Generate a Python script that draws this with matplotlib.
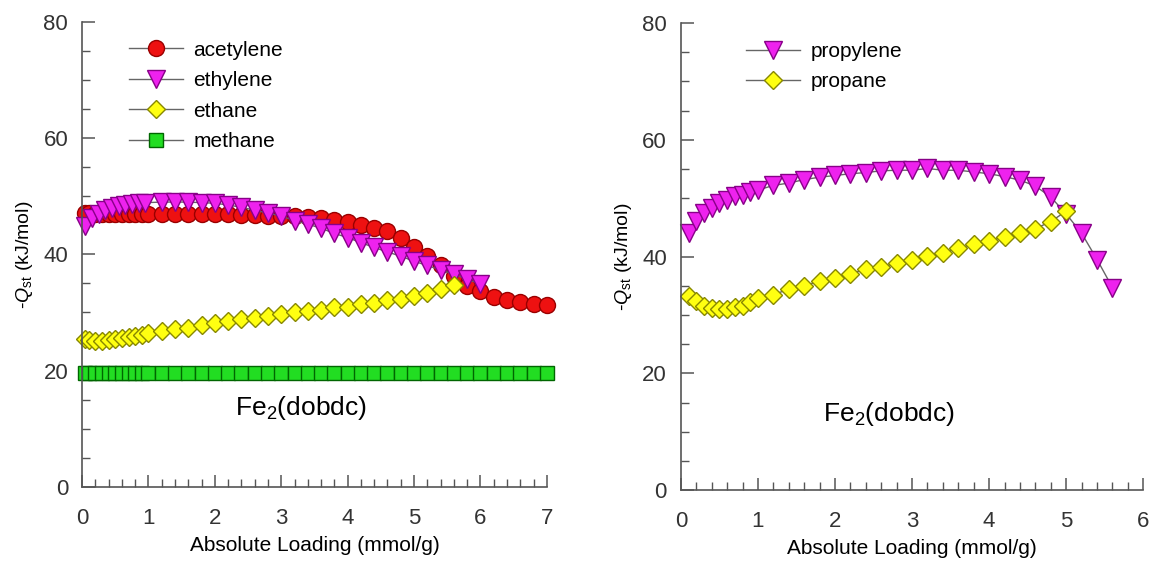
import numpy as np
import matplotlib
matplotlib.use("Agg")
import matplotlib.pyplot as plt
from matplotlib.ticker import MultipleLocator

plt.rcParams['font.family'] = ['Liberation Sans', 'DejaVu Sans']
plt.rcParams['mathtext.fontset'] = 'custom'
plt.rcParams['mathtext.rm'] = 'Liberation Sans'
plt.rcParams['mathtext.it'] = 'Liberation Sans:italic'

# ---- left panel: C2 / C1 gases ----
x_c2 = [0.05, 0.1, 0.2, 0.3, 0.4, 0.5, 0.6, 0.7, 0.8, 0.9, 1.0,
        1.2, 1.4, 1.6, 1.8, 2.0, 2.2, 2.4, 2.6, 2.8, 3.0,
        3.2, 3.4, 3.6, 3.8, 4.0, 4.2, 4.4, 4.6, 4.8, 5.0,
        5.2, 5.4, 5.6, 5.8, 6.0, 6.2, 6.4, 6.6, 6.8, 7.0]
acetylene = [47.2, 47.1, 47.0, 47.0, 47.0, 47.0, 47.0, 47.0, 47.0, 47.0, 47.0,
             47.0, 47.0, 47.0, 47.0, 47.0, 46.9, 46.8, 46.7, 46.6, 46.6,
             46.6, 46.5, 46.3, 45.9, 45.6, 45.1, 44.6, 44.0, 42.9, 41.3,
             39.7, 38.2, 36.3, 34.6, 33.7, 32.7, 32.2, 31.8, 31.5, 31.2]
methane = [19.6] * len(x_c2)

x_ethylene = [0.05, 0.15, 0.25, 0.35, 0.45, 0.55, 0.65, 0.75, 0.85, 0.95,
              1.2, 1.4, 1.6, 1.8, 2.0, 2.2, 2.4, 2.6, 2.8, 3.0,
              3.2, 3.4, 3.6, 3.8, 4.0, 4.2, 4.4, 4.6, 4.8, 5.0,
              5.2, 5.4, 5.6, 5.8, 6.0]
ethylene = [44.8, 46.2, 47.0, 47.6, 48.0, 48.3, 48.5, 48.7, 48.8, 48.9,
            49.0, 49.0, 49.0, 48.9, 48.8, 48.5, 48.1, 47.6, 47.1, 46.6,
            45.8, 45.2, 44.5, 43.6, 42.9, 42.0, 41.2, 40.4, 39.7, 38.8,
            38.1, 37.3, 36.6, 35.7, 34.9]

x_ethane = [0.05, 0.1, 0.2, 0.3, 0.4, 0.5, 0.6, 0.7, 0.8, 0.9, 1.0,
            1.2, 1.4, 1.6, 1.8, 2.0, 2.2, 2.4, 2.6, 2.8, 3.0,
            3.2, 3.4, 3.6, 3.8, 4.0, 4.2, 4.4, 4.6, 4.8, 5.0,
            5.2, 5.4, 5.6]
ethane = [25.4, 25.2, 25.1, 25.1, 25.2, 25.4, 25.6, 25.8, 26.0, 26.2, 26.5,
          26.8, 27.1, 27.4, 27.9, 28.2, 28.5, 28.9, 29.1, 29.4, 29.7,
          30.0, 30.2, 30.5, 30.9, 31.0, 31.5, 31.7, 32.1, 32.4, 32.9,
          33.4, 34.0, 34.7]

# ---- right panel: C3 gases ----
x_propylene = [0.1, 0.2, 0.3, 0.4, 0.5, 0.6, 0.7, 0.8, 0.9, 1.0,
               1.2, 1.4, 1.6, 1.8, 2.0, 2.2, 2.4, 2.6, 2.8, 3.0,
               3.2, 3.4, 3.6, 3.8, 4.0, 4.2, 4.4, 4.6, 4.8, 5.0,
               5.2, 5.4, 5.6]
propylene = [44.0, 46.1, 47.5, 48.4, 49.2, 49.7, 50.3, 50.6, 51.1, 51.4,
             52.2, 52.6, 53.2, 53.6, 53.9, 54.2, 54.4, 54.7, 54.8, 54.8,
             55.1, 54.8, 54.8, 54.5, 54.2, 53.7, 53.1, 52.1, 50.2, 47.3,
             44.0, 39.5, 34.7]

x_propane = [0.1, 0.2, 0.3, 0.4, 0.5, 0.6, 0.7, 0.8, 0.9, 1.0,
             1.2, 1.4, 1.6, 1.8, 2.0, 2.2, 2.4, 2.6, 2.8, 3.0,
             3.2, 3.4, 3.6, 3.8, 4.0, 4.2, 4.4, 4.6, 4.8, 5.0]
propane = [33.2, 32.4, 31.6, 31.2, 31.0, 31.1, 31.3, 31.6, 32.2, 32.9,
           33.5, 34.4, 35.0, 35.8, 36.4, 37.1, 37.8, 38.2, 38.9, 39.4,
           40.1, 40.7, 41.5, 42.1, 42.7, 43.4, 44.0, 44.8, 46.0, 47.8]

line_col = '#666666'
red = dict(marker='o', ms=11.5, mfc='#ee1111', mec='#990000')
mag = dict(marker='v', ms=12.5, mfc='#ee22ee', mec='#880088')
yel = dict(marker='D', ms=9.5, mfc='#ffff11', mec='#888800')
grn = dict(marker='s', ms=9.5, mfc='#22dd22', mec='#006600')


def style_axes(ax, xmax):
    for s in ['top', 'right']:
        ax.spines[s].set_visible(False)
    for s in ['left', 'bottom']:
        ax.spines[s].set_color('#555555')
        ax.spines[s].set_linewidth(1.2)
    ax.set_xlim(0, xmax)
    ax.set_ylim(0, 80)
    ax.xaxis.set_major_locator(MultipleLocator(1))
    ax.xaxis.set_minor_locator(MultipleLocator(0.2))
    ax.yaxis.set_major_locator(MultipleLocator(20))
    ax.yaxis.set_minor_locator(MultipleLocator(5))
    ax.tick_params(which='both', direction='in', color='#555555', labelsize=16,
                   labelcolor='#333333')
    ax.tick_params(which='major', length=9, width=1.1, pad=10)
    ax.tick_params(axis='x', which='major', pad=15)
    ax.tick_params(which='minor', length=6, width=1.0)
    ax.set_xlabel('Absolute Loading (mmol/g)', fontsize=15, labelpad=5)
    ax.set_ylabel(r'-$Q_{\mathrm{st}}$ (kJ/mol)', fontsize=14, labelpad=6)


fig = plt.figure(figsize=(11.56, 5.64), dpi=100)
ax1 = fig.add_axes([0.071, 0.137, 0.402, 0.824])
ax2 = fig.add_axes([0.589, 0.131, 0.400, 0.828])

ax1.plot(x_c2, acetylene, color=line_col, lw=1, label='acetylene', **red)
ax1.plot(x_ethylene, ethylene, color=line_col, lw=1, label='ethylene', **mag)
ax1.plot(x_ethane, ethane, color=line_col, lw=1, label='ethane', **yel)
ax1.plot(x_c2, methane, color=line_col, lw=1, label='methane', **grn)
style_axes(ax1, 7)
for ln in ax1.lines:
    ln.set_clip_on(False)
ax1.text(3.3, 13.5, r'Fe$_2$(dobdc)', fontsize=19, ha='center', va='center')
ax1.legend(loc='upper left', bbox_to_anchor=(0.06, 1.0), frameon=False,
           fontsize=15, handlelength=2.6, labelspacing=0.55, handletextpad=0.5)

ax2.plot(x_propylene, propylene, color=line_col, lw=1, label='propylene', **mag)
ax2.plot(x_propane, propane, color=line_col, lw=1, label='propane', **yel)
style_axes(ax2, 6)
for ln in ax2.lines:
    ln.set_clip_on(False)
ax2.text(2.7, 13.0, r'Fe$_2$(dobdc)', fontsize=19, ha='center', va='center')
ax2.legend(loc='upper left', bbox_to_anchor=(0.1, 1.0), frameon=False,
           fontsize=15, handlelength=2.6, labelspacing=0.55, handletextpad=0.5)

fig.savefig('out.png', dpi=100, facecolor='white')
